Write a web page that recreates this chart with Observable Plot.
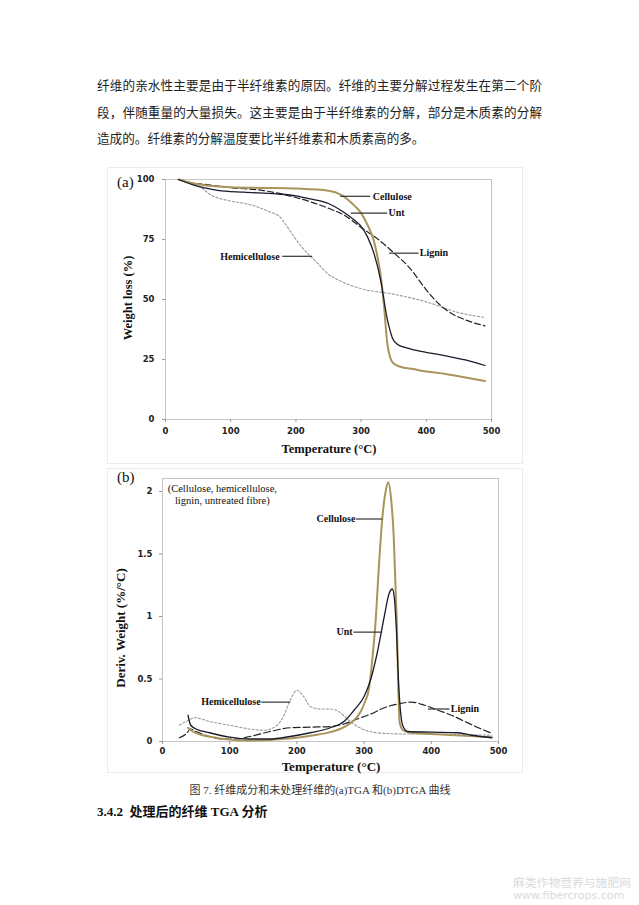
<!DOCTYPE html>
<html><head><meta charset="utf-8">
<script src="https://cdn.jsdelivr.net/npm/d3@7"></script>
<script src="https://cdn.jsdelivr.net/npm/@observablehq/plot@0.6"></script>
<style>
body{margin:0;background:#fff;}
#page{position:relative;width:639px;height:905px;overflow:hidden;font-family:"Liberation Serif",serif;color:#111;}
.abs{position:absolute;white-space:nowrap;}
.para{position:absolute;left:97px;width:445px;font-family:"Noto Sans CJK SC",sans-serif;font-size:12.6px;line-height:1;color:#222;text-align:justify;text-align-last:justify;white-space:nowrap;}
.box{position:absolute;border:1px solid #ececec;}
.chart{position:absolute;}
.ytitle{position:absolute;transform:translate(-50%,-50%) rotate(-90deg);white-space:nowrap;font-family:"Liberation Serif",serif;font-weight:bold;}
.xtitle{position:absolute;transform:translate(-50%,-50%);white-space:nowrap;font-family:"Liberation Serif",serif;font-weight:bold;}
</style></head>
<body>
<div id="page">
  <div class="para" style="top:79px;">纤维的亲水性主要是由于半纤维素的原因。纤维的主要分解过程发生在第二个阶</div>
  <div class="para" style="top:106px;">段，伴随重量的大量损失。这主要是由于半纤维素的分解，部分是木质素的分解</div>
  <div class="abs" style="left:97px;top:132px;font-family:'Noto Sans CJK SC',sans-serif;font-size:12.6px;line-height:1;color:#222;">造成的。纤维素的分解温度要比半纤维素和木质素高的多。</div>

  <div class="box" style="left:107px;top:167px;width:414px;height:295px;"></div>
  <div class="box" style="left:107px;top:468px;width:414px;height:303px;"></div>

  <div class="abs" style="left:117px;top:174px;font-size:15px;">(a)</div>
  <div class="abs" style="left:117px;top:469px;font-size:15px;">(b)</div>

  <div id="chartA" class="chart" style="left:100px;top:168px;"></div>
  <div id="chartB" class="chart" style="left:100px;top:470px;"></div>

  <div class="ytitle" style="left:128px;top:298px;font-size:12.5px;">Weight loss (%)</div>
  <div class="xtitle" style="left:329px;top:449px;font-size:12.5px;">Temperature (°C)</div>
  <div class="ytitle" style="left:121px;top:628px;font-size:13px;">Deriv. Weight (%/°C)</div>
  <div class="xtitle" style="left:331px;top:767px;font-size:13px;">Temperature (°C)</div>

  <div class="abs" style="left:320px;top:789px;transform:translate(-50%,-50%);font-family:'Liberation Serif','Noto Sans CJK SC',serif;font-size:11px;color:#333;">图 7. 纤维成分和未处理纤维的(a)TGA 和(b)DTGA 曲线</div>
  <div class="abs" style="left:97px;top:801px;font-family:'Liberation Serif','Noto Sans CJK SC',serif;font-size:13px;font-weight:bold;color:#111;">3.4.2&nbsp;&nbsp;处理后的纤维 TGA 分析</div>

  <div class="abs" style="left:513px;top:876px;font-family:'Noto Sans CJK SC',sans-serif;font-size:11.8px;line-height:1;color:#dadada;">麻类作物营养与施肥网</div>
  <div class="abs" style="left:513px;top:890px;font-family:'DejaVu Sans',sans-serif;font-size:11px;line-height:1;color:#dadada;">www.fibercrops.com</div>
</div>
<script>
// ---------- data ----------
const xTicks = [0, 100, 200, 300, 400, 500];
const yTicksA = [0, 25, 50, 75, 100];
const yTicksB = [0, 0.5, 1, 1.5, 2];

// (a) TGA: [temperature °C, weight %]
const tgaCellulose = [[20,100],[40,98.5],[60,97.6],[100,96.8],[150,96.5],[200,96.2],[250,95.3],[270,93.5],[290,89],[300,86],[310,81],[320,74],[325,68],[330,60],[335,48],[340,32],[345,25.5],[350,23.3],[360,22],[380,21],[400,20],[430,19],[460,17.5],[490,16]];
const tgaUnt = [[20,100],[40,98],[60,96.5],[80,95.5],[120,94.7],[170,94],[200,93.2],[220,92],[250,90],[270,87],[290,83],[300,80.5],[310,76],[320,69],[330,58],[340,42],[348,34],[355,31.5],[370,29.8],[400,28],[430,26.5],[460,24.8],[490,22.5]];
const tgaLignin = [[20,100],[40,98.6],[60,98],[100,96.6],[150,95.4],[200,92.5],[250,88],[275,85],[300,80],[325,75.3],[350,69.5],[375,63],[400,54],[420,48],[440,44],[460,41.5],[490,39]];
const tgaHemi = [[20,100],[35,99],[50,97.5],[70,93.5],[100,91],[130,89.5],[160,86.5],[175,84.5],[185,81],[195,77],[210,71.5],[230,66],[250,60.5],[270,57.5],[300,54.5],[350,52.2],[400,49],[450,44.5],[490,42.5]];

// (b) DTGA: [temperature °C, deriv. weight %/°C]
const dtgCellulose = [[38,0.11],[45,0.08],[60,0.05],[80,0.03],[100,0.015],[125,0.008],[150,0.01],[175,0.018],[200,0.03],[225,0.05],[250,0.075],[270,0.115],[285,0.17],[295,0.24],[300,0.3],[308,0.45],[313,0.7],[317,0.95],[322,1.4],[327,1.78],[332,2.0],[336,2.075],[340,1.95],[344,1.65],[347,1.2],[349,0.9],[351,0.4],[353,0.15],[358,0.09],[370,0.07],[400,0.06],[450,0.045],[490,0.035]];
const dtgUnt = [[38,0.21],[42,0.13],[50,0.1],[70,0.07],[100,0.035],[130,0.02],[160,0.02],[190,0.04],[220,0.07],[250,0.11],[270,0.16],[285,0.25],[300,0.36],[310,0.5],[320,0.72],[330,1.0],[337,1.18],[342,1.22],[345,1.15],[348,0.9],[351,0.5],[354,0.25],[358,0.12],[365,0.08],[400,0.075],[440,0.07],[460,0.05],[490,0.03]];
const dtgLignin = [[25,0.03],[35,0.06],[42,0.1],[50,0.08],[70,0.04],[90,0.02],[110,0.02],[130,0.04],[160,0.08],[190,0.11],[220,0.115],[250,0.12],[270,0.14],[290,0.18],[310,0.22],[330,0.27],[350,0.3],[370,0.315],[390,0.29],[410,0.25],[430,0.21],[450,0.16],[470,0.11],[490,0.065]];
const dtgHemi = [[25,0.13],[35,0.16],[48,0.19],[70,0.16],[100,0.13],[130,0.1],[150,0.09],[165,0.11],[180,0.2],[190,0.33],[200,0.41],[210,0.36],[220,0.28],[235,0.26],[250,0.26],[262,0.24],[275,0.18],[290,0.12],[305,0.085],[330,0.065],[360,0.06],[400,0.06],[450,0.055],[490,0.05]];

// annotation labels (data units)
const annA = [
  {label:"Cellulose", x1:268, x2:314, y:93, tx:318, anchor:"start"},
  {label:"Unt", x1:284, x2:340, y:86, tx:342, anchor:"start"},
  {label:"Lignin", x1:343, x2:388, y:69.3, tx:390, anchor:"start"},
  {label:"Hemicellulose", x1:179, x2:225, y:68, tx:175, anchor:"end"}
];
const annB = [
  {label:"Cellulose", x1:288, x2:327, y:1.78, tx:287, anchor:"end"},
  {label:"Unt", x1:284, x2:327, y:0.875, tx:283, anchor:"end"},
  {label:"Hemicellulose", x1:147, x2:190, y:0.315, tx:146, anchor:"end"},
  {label:"Lignin", x1:395, x2:427, y:0.26, tx:429, anchor:"start"}
];
const noteB = [
  {text:"(Cellulose, hemicellulose,", x:89, y:2.02},
  {text:"lignin, untreated fibre)", x:89, y:1.93}
];

// ---------- styles ----------
const cCell = "#a8955c";
const X = d => d[0], Y = d => d[1];

function series(cell, unt, lig, hemi, ligDash) {
  return [
    Plot.line(hemi, {x:X, y:Y, stroke:"#9a9a9a", strokeWidth:1.1, strokeDasharray:"2.2,2", curve:"monotone-x"}),
    Plot.line(lig, {x:X, y:Y, stroke:"#222", strokeWidth:1.2, strokeDasharray:ligDash, curve:"monotone-x"}),
    Plot.line(cell, {x:X, y:Y, stroke:cCell, strokeWidth:2, curve:"monotone-x"}),
    Plot.line(unt, {x:X, y:Y, stroke:"#1a1a2a", strokeWidth:1.3, curve:"monotone-x"})
  ];
}
function annMarks(ann) {
  return [
    Plot.link(ann, {x1:"x1", x2:"x2", y1:"y", y2:"y", stroke:"#333", strokeWidth:1.2}),
    Plot.text(ann.filter(d=>d.anchor==="start"), {x:"tx", y:"y", text:"label", textAnchor:"start", fontFamily:"Liberation Serif", fontWeight:"bold", fontSize:10, fill:"#111"}),
    Plot.text(ann.filter(d=>d.anchor==="end"), {x:"tx", y:"y", text:"label", textAnchor:"end", fontFamily:"Liberation Serif", fontWeight:"bold", fontSize:10, fill:"#111"})
  ];
}
const axisStyle = {fontFamily:"DejaVu Sans", fontSize:"8.5px", fontWeight:"bold", color:"#222", background:"transparent", overflow:"visible"};

const chartA = Plot.plot({
  width:422, height:294, marginLeft:65, marginRight:31, marginTop:11, marginBottom:43,
  x:{domain:[0,500]}, y:{domain:[0,100]},
  style:axisStyle,
  marks:[
    Plot.frame({stroke:"#c4c4c4"}),
    Plot.axisX({ticks:xTicks, tickSize:3, tickPadding:5, label:null, stroke:"#999", fill:"#222"}),
    Plot.axisY({ticks:yTicksA, tickSize:3, tickPadding:8, label:null, stroke:"#999", fill:"#222"}),
    ...series(tgaCellulose, tgaUnt, tgaLignin, tgaHemi, "6,3"),
    ...annMarks(annA)
  ]
});
document.getElementById("chartA").appendChild(chartA);

const chartB = Plot.plot({
  width:422, height:302, marginLeft:62, marginRight:24, marginTop:8, marginBottom:31,
  x:{domain:[0,500]}, y:{domain:[0,2.104]},
  style:axisStyle,
  marks:[
    Plot.frame({stroke:"#c4c4c4"}),
    Plot.axisX({ticks:xTicks, tickSize:3, tickPadding:3, label:null, stroke:"#999", fill:"#222"}),
    Plot.axisY({ticks:yTicksB, tickSize:3, tickPadding:7, label:null, stroke:"#999", fill:"#222", tickFormat:d=>String(d)}),
    ...series(dtgCellulose, dtgUnt, dtgLignin, dtgHemi, "7,3"),
    ...annMarks(annB),
    Plot.text(noteB, {x:"x", y:"y", text:"text", textAnchor:"middle", fontFamily:"Liberation Serif", fontWeight:"normal", fontSize:10.5, fill:"#111"})
  ]
});
document.getElementById("chartB").appendChild(chartB);
</script>
</body></html>
